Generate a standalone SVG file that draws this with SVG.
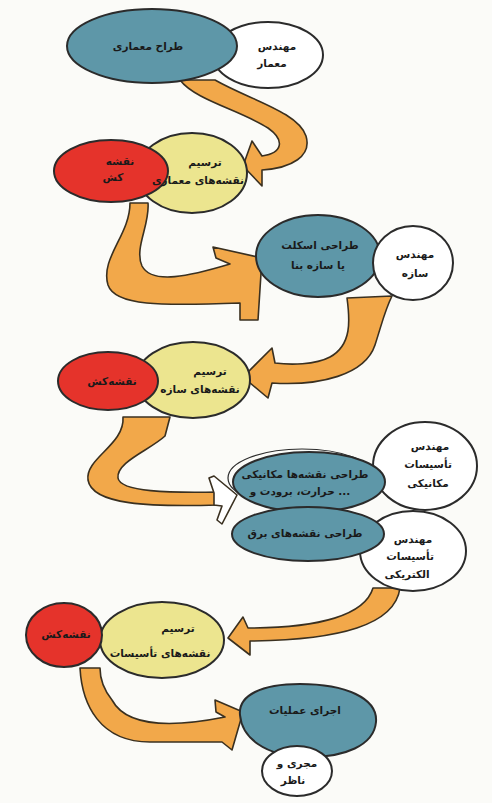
<svg xmlns="http://www.w3.org/2000/svg" width="492" height="803" viewBox="0 0 492 803">
<style>
.bg{fill:#fbfbf8}
.blue{fill:#5e97a8;stroke:#2b2b2b;stroke-width:2}
.yel{fill:#ece58f;stroke:#2b2b2b;stroke-width:2}
.red{fill:#e5332b;stroke:#2b2b2b;stroke-width:2}
.wht{fill:#ffffff;stroke:#2b2b2b;stroke-width:2}
.arr{fill:#f2a84a;stroke:#3a3020;stroke-width:1.6;stroke-linejoin:round}
.arrw{fill:#ffffff;stroke:#3a3020;stroke-width:1.6;stroke-linejoin:round}
text{font-family:"DejaVu Sans",sans-serif;font-size:10.5px;font-weight:bold;fill:#1a1a1a;text-anchor:middle}
</style>
<rect class="bg" x="0" y="0" width="492" height="803"/>
<g id="connectors">
<path class="arr" d="M180,80 C195,100 240,110 268,128 C285,140 283,153 262,156 L252,141 L243,166 L262,186 L262,170 C292,168 312,156 306,136 C298,112 250,100 215,80 Z"/>
<path class="arr" d="M130,203 C130,235 100,258 108,285 C115,306 160,306 240,303 L240,320 L258,320 L262,258 L213,247 L216,258 L230,264 C190,276 152,285 142,266 C134,248 150,225 148,203 Z"/>
<path class="arr" d="M347,298 C350,320 352,345 330,357 C315,365 290,365 275,363 L272,348 L243,377 L268,398 L272,383 C320,386 365,375 375,345 C383,320 385,310 392,296 Z"/>
<path class="arr" d="M123,417 C125,445 85,458 88,480 C92,505 150,507 218,505 L218,492 C170,493 120,492 118,478 C116,462 150,450 165,436 L170,417 Z"/>
<path class="arrw" d="M209,478 L214,476 L237,495 L222,524 L217,520 L222,506 L214,505 L214,493 Z"/>
<path class="arr" d="M373,588 C365,615 320,628 248,628 L243,617 L228,638 L250,655 L250,641 C340,640 395,625 400,588 Z"/>
<path class="arr" d="M80,668 C82,705 100,742 150,742 L222,742 L232,750 L243,712 L215,700 L216,712 L225,717 C180,726 128,730 112,700 C104,690 100,680 100,668 Z"/>
</g>
<g id="n1">
<ellipse class="wht" cx="268" cy="55" rx="55" ry="33"/>
<ellipse class="blue" cx="152" cy="46" rx="85" ry="37"/>
<text x="148" y="50">طراح معماری</text>
<text x="277" y="50">مهندس</text>
<text x="272" y="67">معمار</text>
</g>
<g id="n2">
<ellipse class="yel" cx="192" cy="173" rx="55" ry="40"/>
<ellipse class="red" cx="111" cy="171" rx="57" ry="31"/>
<text x="120" y="165">نقشه</text>
<text x="113" y="181">کش</text>
<text x="205" y="166">ترسیم</text>
<text x="198" y="184">نقشه‌های معماری</text>
</g>
<g id="n3">
<ellipse class="blue" cx="318" cy="256" rx="62" ry="41"/>
<ellipse class="wht" cx="413" cy="263" rx="40" ry="37"/>
<text x="320" y="249">طراحی اسکلت</text>
<text x="318" y="269">یا سازه بنا</text>
<text x="415" y="258">مهندس</text>
<text x="415" y="277">سازه</text>
</g>
<g id="n4">
<ellipse class="yel" cx="193" cy="380" rx="57" ry="38"/>
<ellipse class="red" cx="108" cy="381" rx="50" ry="29"/>
<text x="112" y="385">نقشه‌کش</text>
<text x="210" y="375">ترسیم</text>
<text x="200" y="393">نقشه‌های سازه</text>
</g>
<g id="n5">
<ellipse class="wht" cx="425" cy="466" rx="52" ry="44"/>
<ellipse class="wht" cx="413" cy="551" rx="53" ry="40"/>
<ellipse cx="302" cy="478" rx="74" ry="29" fill="none" stroke="#2b2b2b" stroke-width="1.2"/>
<ellipse class="blue" cx="309" cy="482" rx="76" ry="30"/>
<ellipse class="blue" cx="308" cy="534" rx="76" ry="27"/>
<text x="305" y="478">طراحی نقشه‌ها مکانیکی</text>
<text x="300" y="495">حرارت، برودت و ...</text>
<text x="305" y="537">طراحی نقشه‌های برق</text>
<text x="430" y="450">مهندس</text>
<text x="428" y="468">تأسیسات</text>
<text x="428" y="487">مکانیکی</text>
<text x="413" y="543">مهندس</text>
<text x="410" y="560">تأسیسات</text>
<text x="407" y="578">الکتریکی</text>
</g>
<g id="n6">
<ellipse class="yel" cx="162" cy="640" rx="62" ry="38"/>
<ellipse class="red" cx="64" cy="635" rx="38" ry="32"/>
<text x="66" y="638">نقشه‌کش</text>
<text x="178" y="632">ترسیم</text>
<text x="160" y="657">نقشه‌های تأسیسات</text>
</g>
<g id="n7">
<path class="blue" d="M240,715 C238,695 262,684 300,684 C345,684 378,698 376,722 C374,745 345,758 305,757 C265,756 242,738 240,715 Z"/>
<ellipse class="wht" cx="297" cy="771" rx="35" ry="25"/>
<text x="305" y="714">اجرای عملیات</text>
<text x="297" y="767">مجری و</text>
<text x="293" y="784">ناظر</text>
</g>
</svg>
